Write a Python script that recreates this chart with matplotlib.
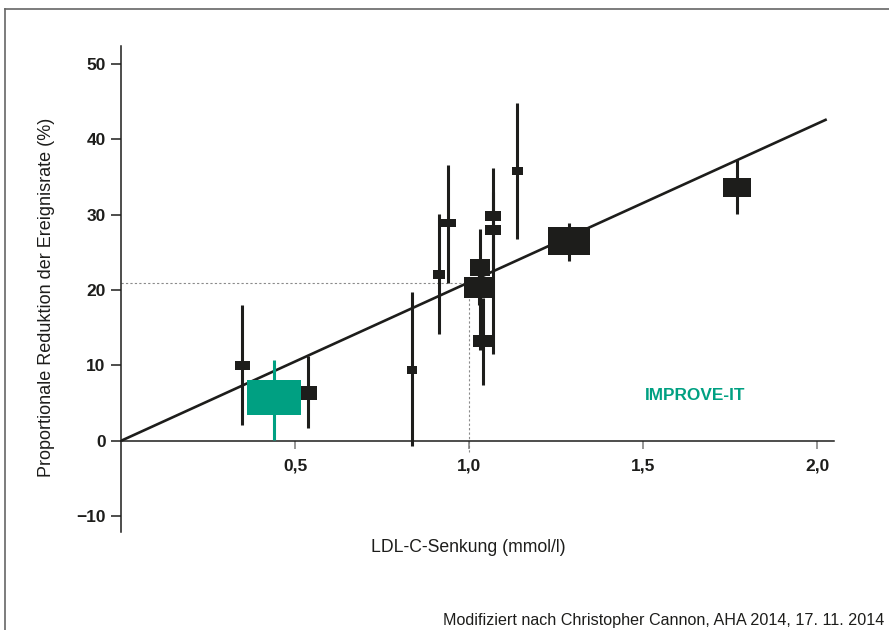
import matplotlib
matplotlib.use("Agg")
import matplotlib.pyplot as plt
from matplotlib.patches import Rectangle
from matplotlib.lines import Line2D

plt.rcParams['font.family'] = ['Liberation Sans', 'DejaVu Sans']

# ---- data ----
ldl_reduction = [0.349, 0.538, 0.835, 0.914, 0.940, 1.028, 1.031, 1.041, 1.069, 1.069, 1.139, 1.287, 1.770]
risk_reduction = [10.0, 6.4, 9.4, 22.1, 28.9, 20.3, 23.0, 13.2, 29.8, 28.0, 35.8, 26.5, 33.6]
ci_low = [2.1, 1.7, -0.75, 14.2, 21.0, 18.0, 12.1, 7.4, 23.0, 11.5, 26.8, 23.9, 30.1]
ci_high = [18.0, 11.2, 19.8, 30.1, 36.6, 22.5, 28.1, 19.0, 36.2, 33.0, 44.8, 28.9, 37.3]
box_w = [0.043, 0.050, 0.029, 0.0345, 0.045, 0.085, 0.0575, 0.0595, 0.045, 0.045, 0.0316, 0.1207, 0.080]
box_h = [1.2, 1.86, 1.06, 1.15, 1.15, 2.79, 2.21, 1.59, 1.33, 1.33, 1.15, 3.8, 2.48]

improve_x = 0.44
improve_y = 5.75
improve_lo = 0.1
improve_hi = 10.7
improve_w = 0.157
improve_h = 4.73

fit_x = [0.0, 2.028]
fit_y = [0.0, 42.67]
ref_x = 1.0
ref_y = 20.9

x_ticks = [0.5, 1.0, 1.5, 2.0]
x_ticklabels = ['0,5', '1,0', '1,5', '2,0']
y_ticks = [-10, 0, 10, 20, 30, 40, 50]
y_ticklabels = ['\u221210', '0', '10', '20', '30', '40', '50']

BLACK = '#1d1d1b'
GREEN = '#00a082'

fig = plt.figure(figsize=(8.89, 6.30), dpi=100)
W, H = 889, 630
ax = fig.add_axes([121 / W, 1 - 532 / H, (834.4 - 121) / W, (532 - 46) / H])
ax.set_xlim(0, 2.05)
ax.set_ylim(-12.1, 52.4)

# reference dotted lines
ax.plot([0, ref_x], [ref_y, ref_y], color='#8a8a8a', lw=0.8, ls=(0, (2, 2)), zorder=1)
ax.plot([ref_x, ref_x], [-1.5, ref_y], color='#8a8a8a', lw=0.8, ls=(0, (2, 2)), zorder=1, clip_on=False)

# regression line
ax.plot(fit_x, fit_y, color=BLACK, lw=1.9, zorder=2, solid_capstyle='butt')

# studies
for x, y, lo, hi, w, h in zip(ldl_reduction, risk_reduction, ci_low, ci_high, box_w, box_h):
    ax.plot([x, x], [lo, hi], color=BLACK, lw=2.2, zorder=3, solid_capstyle='butt', clip_on=False)
    ax.add_patch(Rectangle((x - w / 2, y - h / 2), w, h, facecolor=BLACK, edgecolor='none', zorder=4))

# IMPROVE-IT
ax.add_patch(Rectangle((improve_x - improve_w / 2, improve_y - improve_h / 2), improve_w, improve_h,
                       facecolor=GREEN, edgecolor='none', zorder=5))
ax.plot([improve_x, improve_x], [improve_lo, improve_hi], color=GREEN, lw=2.2, zorder=6, solid_capstyle='butt')
ax.text(1.65, 6.0, 'IMPROVE-IT', color=GREEN, fontsize=12.4, fontweight='bold', ha='center', va='center')

# axes styling
for s in ['top', 'right']:
    ax.spines[s].set_visible(False)
ax.spines['bottom'].set_position(('data', 0))
ax.spines['bottom'].set_color(BLACK)
ax.spines['left'].set_color(BLACK)
ax.spines['bottom'].set_linewidth(1.1)
ax.spines['left'].set_linewidth(1.1)
ax.set_xticks(x_ticks)
ax.set_xticklabels(x_ticklabels, fontsize=12.5, fontweight='bold')
ax.set_yticks(y_ticks)
ax.set_yticklabels(y_ticklabels, fontsize=12.5, fontweight='bold')
ax.tick_params(axis='x', direction='out', length=6, width=1.1, color='#7a7a7a', pad=7, labelcolor=BLACK)
ax.tick_params(axis='y', direction='out', length=7, width=1.1, color=BLACK, pad=4, labelcolor=BLACK)

fig.text(468 / W, 1 - 548 / H, 'LDL-C-Senkung (mmol/l)', fontsize=12.7, ha='center', va='center', color=BLACK)
fig.text(47 / W, 1 - 297 / H, 'Proportionale Reduktion der Ereignisrate (%)', fontsize=13,
         rotation=90, ha='center', va='center', color=BLACK)
fig.text(884 / W, 1 - 620 / H, 'Modifiziert nach Christopher Cannon, AHA 2014, 17. 11. 2014',
         fontsize=11.6, ha='right', va='center', color=BLACK)

# figure frame (top and left edges visible)
fig.add_artist(Line2D([5 / W, 1.0], [1 - 9 / H, 1 - 9 / H], transform=fig.transFigure, color='#666666', lw=1.2))
fig.add_artist(Line2D([5 / W, 5 / W], [0, 1 - 9 / H], transform=fig.transFigure, color='#666666', lw=1.2))

fig.savefig('out.png', dpi=100)
